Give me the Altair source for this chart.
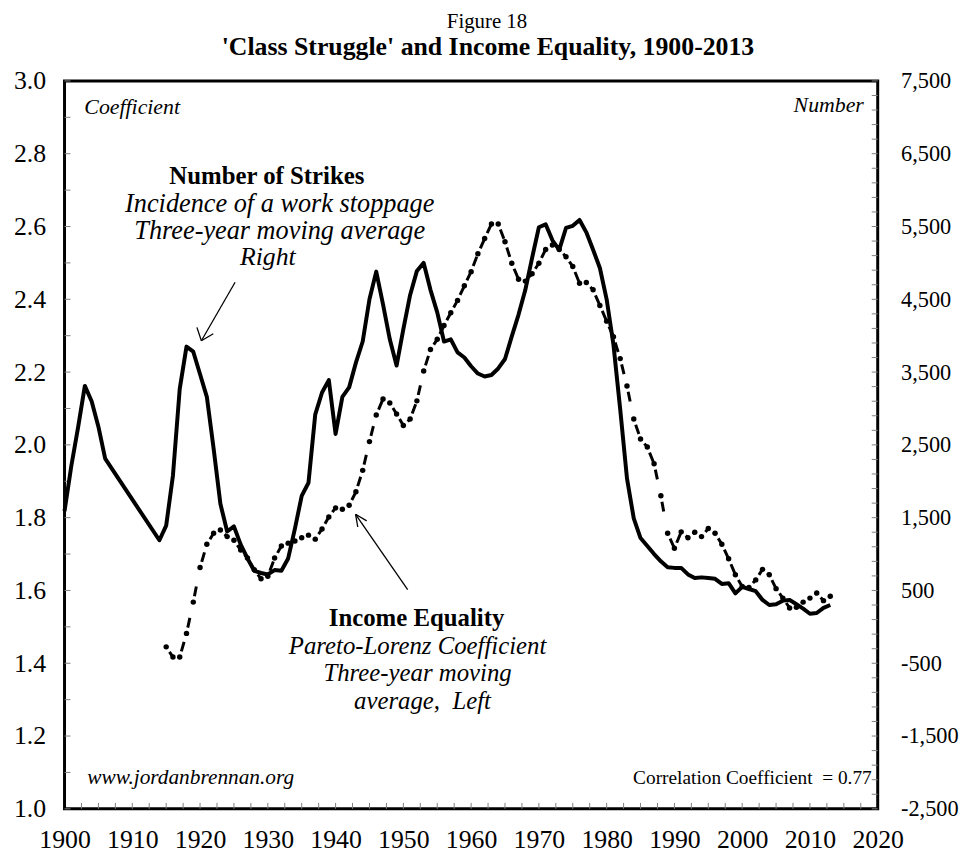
import altair as alt
import pandas as pd

# ---------------- data ----------------
strike_years = [1900, 1901, 1902, 1903, 1904, 1905, 1906,
                1914, 1915, 1916, 1917, 1918, 1919, 1920, 1921, 1922, 1923, 1924, 1925,
                1926, 1927, 1928, 1929, 1930, 1931, 1932, 1933, 1934, 1935, 1936, 1937,
                1938, 1939, 1940, 1941, 1942, 1943, 1944, 1945, 1946, 1947, 1948, 1949,
                1950, 1951, 1952, 1953, 1954, 1955, 1956, 1957, 1958, 1959, 1960, 1961,
                1962, 1963, 1964, 1965, 1966, 1967, 1968, 1969, 1970, 1971, 1972, 1973,
                1974, 1975, 1976, 1977, 1978, 1979, 1980, 1981, 1982, 1983, 1984, 1985,
                1986, 1987, 1988, 1989, 1990, 1991, 1992, 1993, 1994, 1995, 1996, 1997,
                1998, 1999, 2000, 2001, 2002, 2003, 2004, 2005, 2006, 2007, 2008, 2009,
                2010, 2011, 2012, 2013]
strikes = [1590, 2210, 2740, 3310, 3100, 2750, 2310,
           1190, 1390, 2080, 3270, 3850, 3780, 3470, 3160, 2450, 1690, 1310, 1380,
           1130, 940, 770, 740, 720, 780, 770, 940, 1350, 1800, 1980, 2920,
           3220, 3390, 2650, 3160, 3290, 3630, 3920, 4500, 4880, 4430, 3950, 3590,
           4090, 4560, 4890, 5000, 4630, 4320, 3920, 3950, 3770, 3700, 3580, 3480,
           3440, 3460, 3550, 3680, 3990, 4290, 4630, 5070, 5490, 5530, 5310, 5180,
           5480, 5510, 5590, 5420, 5180, 4930, 4500, 3880, 2990, 2040, 1490, 1220,
           1110, 1000, 900, 820, 810, 810, 720, 670, 680, 670, 660, 590,
           600, 460, 550, 520, 490, 370, 300, 310, 360, 370, 310, 250,
           180, 190, 260, 300]

income_years = list(range(1915, 2014))
income = [1.445, 1.417, 1.417, 1.482, 1.568, 1.663, 1.727, 1.757, 1.766, 1.748,
          1.738, 1.711, 1.689, 1.657, 1.632, 1.639, 1.689, 1.722, 1.730, 1.736,
          1.745, 1.752, 1.741, 1.769, 1.802, 1.827, 1.823, 1.834, 1.871, 1.930,
          2.009, 2.082, 2.126, 2.115, 2.085, 2.053, 2.071, 2.121, 2.203, 2.262,
          2.290, 2.328, 2.363, 2.397, 2.437, 2.476, 2.525, 2.567, 2.607, 2.607,
          2.558, 2.499, 2.455, 2.450, 2.470, 2.499, 2.537, 2.549, 2.537, 2.517,
          2.490, 2.444, 2.446, 2.426, 2.383, 2.340, 2.297, 2.237, 2.162, 2.071,
          2.016, 1.994, 1.948, 1.860, 1.757, 1.716, 1.761, 1.745, 1.760, 1.748,
          1.770, 1.757, 1.727, 1.687, 1.643, 1.611, 1.608, 1.629, 1.658, 1.643,
          1.605, 1.579, 1.552, 1.554, 1.568, 1.579, 1.593, 1.572, 1.584]

x_label_years = list(range(1900, 2021, 10))
x_minor_ticks = [1900 + 2.5 * i for i in range(1, 48)]
left_labels = [1.0, 1.2, 1.4, 1.6, 1.8, 2.0, 2.2, 2.4, 2.6, 2.8, 3.0]
left_ticks = [round(1.0 + 0.1 * i, 1) for i in range(21)]
right_labels = list(range(-2500, 7501, 1000))
right_ticks = list(range(-2500, 7501, 200))

# ---------------- layout ----------------
W, H = 820, 734
FONT = "Liberation Serif"
TICK_COLOR = "#808080"

xs = alt.Scale(domain=[1900, 2020], nice=False, zero=False)
yl = alt.Scale(domain=[1.0, 3.0], nice=False, zero=False)
yr = alt.Scale(domain=[-2500, 7500], nice=False, zero=False)

inc = pd.DataFrame({"year": income_years, "val": income})
seg = pd.DataFrame({"year": income_years[:-1], "val": income[:-1],
                    "year2": income_years[1:], "val2": income[1:]})
stk = pd.DataFrame({"year": strike_years, "n": strikes})

x_axis = alt.Axis(values=x_label_years, format="d", labelFont=FONT, labelFontSize=26,
                  labelColor="black", ticks=False, domain=False, grid=False,
                  labelPadding=18, title=None, labelFlush=False)
left_axis = alt.Axis(orient="left", values=left_labels, format=".1f", labelFont=FONT,
                     labelFontSize=26, labelColor="black", ticks=False, domain=False,
                     grid=False, labelPadding=19, title=None)
right_axis = alt.Axis(orient="right", values=right_labels,
                      labelExpr="(datum.value < 0 ? '-' : '') + format(abs(datum.value), ',')",
                      labelFont=FONT, labelFontSize=22.5, labelColor="black", ticks=False,
                      domain=False, grid=False, labelPadding=23, title=None)

# income equality: dash-dot per segment + round dots at each year
inc_segments = alt.Chart(seg).mark_rule(
    color="black", strokeWidth=3, strokeDash=[0, 6, 10, 1000], strokeCap="butt"
).encode(
    x=alt.X("year:Q", scale=xs, axis=x_axis),
    x2=alt.X2("year2:Q"),
    y=alt.Y("val:Q", scale=yl, axis=left_axis),
    y2=alt.Y2("val2:Q"),
)
inc_dots = alt.Chart(inc).mark_circle(size=30, color="black", opacity=1).encode(
    x=alt.X("year:Q", scale=xs, axis=x_axis),
    y=alt.Y("val:Q", scale=yl, axis=left_axis),
)
left_tick_marks = alt.Chart(pd.DataFrame({"v": left_ticks})).mark_rule(
    color=TICK_COLOR, strokeWidth=1
).encode(y=alt.Y("v:Q", scale=yl, axis=left_axis), x=alt.value(0), x2=alt.value(6))
bottom_tick_marks = alt.Chart(pd.DataFrame({"yr": x_minor_ticks})).mark_rule(
    color=TICK_COLOR, strokeWidth=1
).encode(x=alt.X("yr:Q", scale=xs, axis=x_axis), y=alt.value(H - 6), y2=alt.value(H))

left_group = alt.layer(inc_segments, inc_dots, left_tick_marks, bottom_tick_marks)

strike_line = alt.Chart(stk).mark_line(
    color="black", strokeWidth=4, strokeJoin="round"
).encode(
    x=alt.X("year:Q", scale=xs, axis=x_axis),
    y=alt.Y("n:Q", scale=yr, axis=right_axis),
)
right_tick_marks = alt.Chart(pd.DataFrame({"v": right_ticks})).mark_rule(
    color=TICK_COLOR, strokeWidth=1
).encode(y=alt.Y("v:Q", scale=yr, axis=right_axis), x=alt.value(W - 6), x2=alt.value(W))

right_group = alt.layer(strike_line, right_tick_marks)

one = pd.DataFrame({"a": [0]})


def label(txt, x, y, size=22, weight="normal", style="normal", align="center"):
    return alt.Chart(one).mark_text(
        text=txt, font=FONT, fontSize=size, fontWeight=weight, fontStyle=style,
        align=align, baseline="alphabetic", color="black"
    ).encode(x=alt.value(x), y=alt.value(y))


def seg_line(x1, y1, x2, y2):
    return alt.Chart(one).mark_rule(color="black", strokeWidth=1.3).encode(
        x=alt.value(x1), y=alt.value(y1), x2=alt.value(x2), y2=alt.value(y2))


annotations = [
    label("Figure 18", 426, -53, size=21),
    label("'Class Struggle' and Income Equality, 1900-2013", 427, -26, size=26, weight="bold"),
    label("Coefficient", 20, 33, size=22, style="italic", align="left"),
    label("Number", 806, 31, size=22, style="italic", align="right"),
    label("Number of Strikes", 204, 104, size=25, weight="bold"),
    label("Incidence of a work stoppage", 217, 132, size=26.5, style="italic"),
    label("Three-year moving average", 217, 159, size=26.5, style="italic"),
    label("Right", 205, 186, size=26, style="italic"),
    label("Income Equality", 355, 550, size=25, weight="bold"),
    label("Pareto-Lorenz Coefficient", 356, 578, size=25, style="italic"),
    label("Three-year moving", 356, 605, size=25, style="italic"),
    label("average,\u00a0 Left", 361, 633, size=25, style="italic"),
    label("www.jordanbrennan.org", 23, 709, size=21.5, style="italic", align="left"),
    label("Correlation Coefficient\u00a0 = 0.77", 814, 709, size=19.5, align="right"),
    # arrow to strikes line
    seg_line(172, 203, 138, 262),
    seg_line(138, 262, 133.5, 248.5),
    seg_line(138, 262, 150, 255),
    # arrow to income line
    seg_line(346, 513, 293.5, 437),
    seg_line(293.5, 437, 295.7, 449.8),
    seg_line(293.5, 437, 304.7, 443.6),
]

chart = alt.layer(left_group, right_group, *annotations).resolve_scale(
    y="independent"
).properties(
    width=W, height=H,
    autosize=alt.AutoSizeParams(type="none"),
    padding={"left": 57, "top": 70, "right": 86, "bottom": 41},
    background="white",
).configure_view(stroke="black", strokeWidth=3)

chart.save("out.html", embed_options={"renderer": "svg", "actions": False})
